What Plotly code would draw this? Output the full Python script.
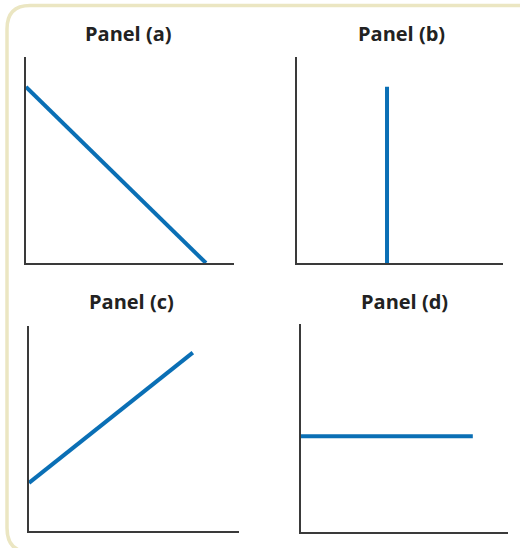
import plotly.graph_objects as go

W, H = 520, 548

# line data for each panel, on a 0-10 scale
a_x = [0, 8.65]
a_y = [8.55, 0]
b_x = [4.37, 4.37]
b_y = [0, 8.55]
c_x = [0, 7.8]
c_y = [2.35, 8.7]
d_x = [0, 8.3]
d_y = [4.6, 4.6]
titles = ["Panel (a)", "Panel (b)", "Panel (c)", "Panel (d)"]

BLUE = "#0a6fb5"
AXIS = "#3a3a3a"
BORDER = "#ebe6c2"

# pixel boxes (left, right, top, bottom) of each panel's axes
boxes = [(26, 234, 57, 263), (297, 503, 57, 263),
         (29, 239, 326, 531), (301, 508, 324, 532)]


def px(x):
    return x / W


def py(y):
    return 1 - y / H


fig = go.Figure()
series = [(a_x, a_y), (b_x, b_y), (c_x, c_y), (d_x, d_y)]
layout = {}
title_pos = [(128, 33), (401, 33), (131, 301), (404, 301)]
for i, ((xs, ys), (l, r, t, b)) in enumerate(zip(series, boxes), start=1):
    sx = "" if i == 1 else str(i)
    fig.add_trace(go.Scatter(x=xs, y=ys, mode="lines", xaxis="x" + sx, yaxis="y" + sx,
                             line=dict(color=BLUE, width=4), hoverinfo="skip",
                             showlegend=False))
    ax = dict(range=[0, 10], showline=True, linecolor=AXIS,
              linewidth=1.5, showgrid=False, zeroline=False, showticklabels=False,
              ticks="", fixedrange=True)
    layout["xaxis" + sx] = dict(ax, anchor="y" + sx, domain=[px(l), px(r)])
    layout["yaxis" + sx] = dict(ax, anchor="x" + sx, domain=[py(b), py(t)])
    tx, ty = title_pos[i - 1]
    fig.add_annotation(x=px(tx), y=py(ty), xref="paper", yref="paper",
                       xanchor="center", yanchor="middle",
                       text=f"<b>{titles[i-1]}</b>", showarrow=False,
                       font=dict(size=20, color="#222222"))

# beige rounded frame on the top and left
path = (f"M {px(522)},{py(5.5)} L {px(30)},{py(5.5)} Q {px(7)},{py(5.5)} {px(7)},{py(29)} "
        f"L {px(7)},{py(528)} Q {px(7)},{py(552)} {px(30)},{py(552)}")
fig.add_shape(type="path", path=path, xref="paper", yref="paper",
              line=dict(color=BORDER, width=3.5), layer="below")

fig.update_layout(width=W, height=H, margin=dict(l=0, r=0, t=0, b=0),
                  paper_bgcolor="white", plot_bgcolor="white",
                  font=dict(family="Open Sans"), **layout)

fig.write_html("out.html", config={"displayModeBar": False},
               post_script="document.body.style.margin='0';")
